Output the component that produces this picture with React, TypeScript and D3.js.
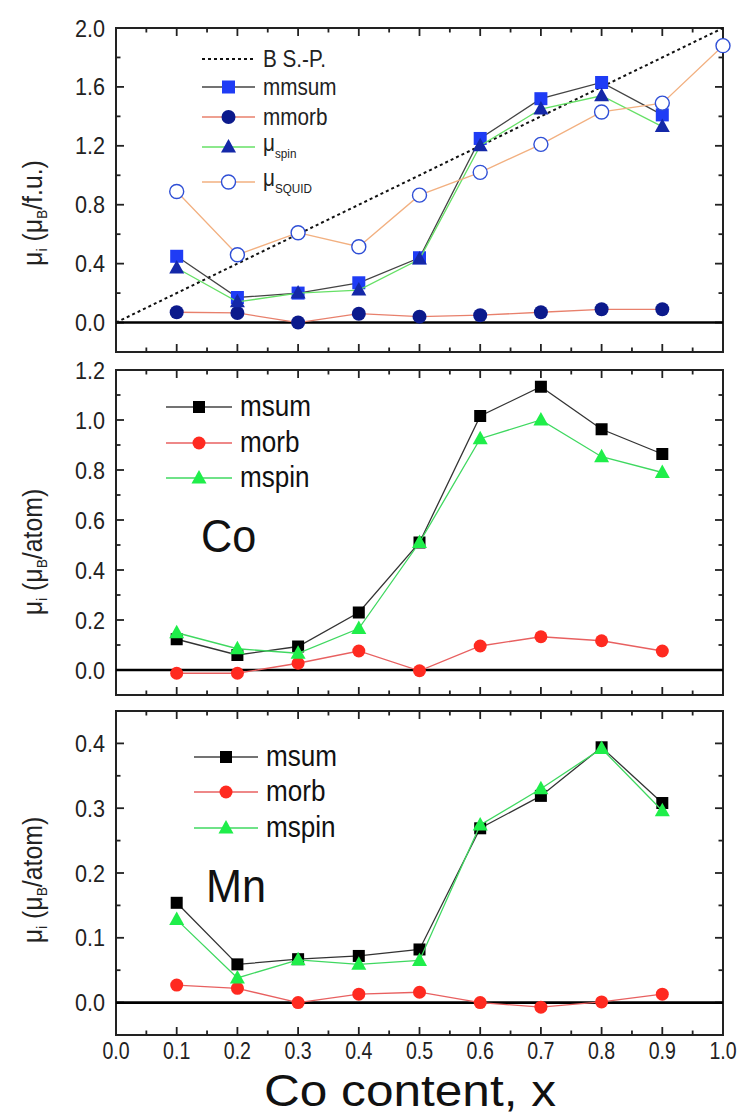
import React from "react";
import * as d3 from "d3";

// ---------- data ----------
const xValues = [0.1, 0.2, 0.3, 0.4, 0.5, 0.6, 0.7, 0.8, 0.9];
const xSquid = [0.1, 0.2, 0.3, 0.4, 0.5, 0.6, 0.7, 0.8, 0.9, 1.0];

// top panel (per formula unit)
const fuSum = [0.45, 0.17, 0.2, 0.27, 0.44, 1.25, 1.52, 1.63, 1.41];
const fuOrb = [0.07, 0.065, 0.0, 0.06, 0.04, 0.05, 0.07, 0.09, 0.09];
const fuSpin = [0.37, 0.14, 0.2, 0.22, 0.43, 1.2, 1.45, 1.54, 1.33];
const fuSquid = [0.89, 0.46, 0.61, 0.515, 0.865, 1.02, 1.21, 1.43, 1.49, 1.88];
const bspX = [0.0, 1.0];
const bspY = [0.0, 2.0];

// Co panel
const coSum = [0.123, 0.06, 0.094, 0.23, 0.51, 1.016, 1.133, 0.963, 0.864];
const coOrb = [-0.013, -0.013, 0.027, 0.076, -0.003, 0.096, 0.133, 0.117, 0.076];
const coSpin = [0.149, 0.085, 0.067, 0.166, 0.51, 0.925, 1.0, 0.853, 0.79];

// Mn panel
const mnSum = [0.154, 0.059, 0.067, 0.072, 0.082, 0.269, 0.319, 0.394, 0.308];
const mnOrb = [0.027, 0.022, 0.0, 0.013, 0.016, 0.0, -0.007, 0.001, 0.013];
const mnSpin = [0.128, 0.038, 0.066, 0.059, 0.065, 0.274, 0.33, 0.392, 0.296];

const xTickLabels = ["0.0", "0.1", "0.2", "0.3", "0.4", "0.5", "0.6", "0.7", "0.8", "0.9", "1.0"];
const yTicksTop = [0.0, 0.4, 0.8, 1.2, 1.6, 2.0];
const yTicksCo = [0.0, 0.2, 0.4, 0.6, 0.8, 1.0, 1.2];
const yTicksMn = [0.0, 0.1, 0.2, 0.3, 0.4];

// ---------- layout ----------
const W = 746;
const H = 1115;
const LEFT = 116;
const RIGHT = 723;
const FONT = "'Liberation Sans', Arial, Helvetica, sans-serif";

const x = d3.scaleLinear().domain([0, 1]).range([LEFT, RIGHT]);

type Panel = {
  top: number;
  bottom: number;
  domain: [number, number];
  major: number;
  ticks: number[];
};

const panels: Panel[] = [
  { top: 28, bottom: 352, domain: [-0.2, 2.0], major: 0.4, ticks: yTicksTop },
  { top: 370, bottom: 695, domain: [-0.1, 1.2], major: 0.2, ticks: yTicksCo },
  { top: 711, bottom: 1035, domain: [-0.05, 0.45], major: 0.1, ticks: yTicksMn },
];

function yScale(p: Panel) {
  return d3.scaleLinear().domain(p.domain).range([p.bottom, p.top]);
}

function tri(cx: number, cy: number, s: number) {
  const h = s * 0.9;
  return `M${cx},${cy - h * 0.6}L${cx + s / 2},${cy + h * 0.4}L${cx - s / 2},${cy + h * 0.4}Z`;
}

// condensed text helper (reference uses a narrow sans face)
function NText({ x: tx, y: ty, anchor = "start", size, sx = 0.86, children, fill = "#222" }:
  { x: number; y: number; anchor?: string; size: number; sx?: number; children: React.ReactNode; fill?: string }) {
  return (
    <text transform={`translate(${tx},${ty}) scale(${sx},1)`} textAnchor={anchor as any} fontSize={size} fontFamily={FONT} fill={fill}>
      {children}
    </text>
  );
}

function Frame({ p, showXLabels }: { p: Panel; showXLabels: boolean }) {
  const y = yScale(p);
  const els: React.ReactNode[] = [];
  for (let i = 1; i < 20; i++) {
    const v = i * 0.05;
    const len = i % 2 === 0 ? 8 : 4.5;
    const xx = x(v);
    els.push(<line key={`xb${i}`} x1={xx} x2={xx} y1={p.bottom} y2={p.bottom - len} stroke="#222" strokeWidth={1.8} />);
    els.push(<line key={`xt${i}`} x1={xx} x2={xx} y1={p.top} y2={p.top + len} stroke="#222" strokeWidth={1.8} />);
  }
  const minor = p.major / 2;
  const n0 = Math.ceil(p.domain[0] / minor - 1e-6);
  const n1 = Math.floor(p.domain[1] / minor + 1e-6);
  for (let k = n0; k <= n1; k++) {
    const v = k * minor;
    const yy = y(v);
    if (Math.abs(yy - p.top) < 1 || Math.abs(yy - p.bottom) < 1) continue;
    const len = k % 2 === 0 ? 8 : 4.5;
    els.push(<line key={`yl${k}`} x1={LEFT} x2={LEFT + len} y1={yy} y2={yy} stroke="#222" strokeWidth={1.8} />);
    els.push(<line key={`yr${k}`} x1={RIGHT} x2={RIGHT - len} y1={yy} y2={yy} stroke="#222" strokeWidth={1.8} />);
  }
  return (
    <g>
      <rect x={LEFT} y={p.top} width={RIGHT - LEFT} height={p.bottom - p.top} fill="none" stroke="#222" strokeWidth={2} />
      {els}
      <line x1={LEFT} x2={RIGHT} y1={y(0)} y2={y(0)} stroke="#000" strokeWidth={2.6} />
      {p.ticks.map((t) => (
        <NText key={`yt${t}`} x={105} y={y(t) + 8.5} anchor="end" size={24} sx={0.9}>
          {t.toFixed(1)}
        </NText>
      ))}
      {showXLabels &&
        xTickLabels.map((lab) => (
          <NText key={`xl${lab}`} x={x(+lab)} y={1059} anchor="middle" size={23} sx={0.85}>
            {lab}
          </NText>
        ))}
    </g>
  );
}

function Series({
  xs, ys, y, lineColor, marker, fill, size, lineWidth = 1.3,
}: {
  xs: number[]; ys: number[]; y: d3.ScaleLinear<number, number>; lineColor: string;
  marker: "square" | "circle" | "triangle" | "open"; fill: string; size: number; lineWidth?: number;
}) {
  const pts: [number, number][] = xs.map((v, i) => [x(v), y(ys[i])]);
  const line = d3.line()(pts) || "";
  return (
    <g>
      <path d={line} fill="none" stroke={lineColor} strokeWidth={lineWidth} />
      {pts.map(([px, py], i) => {
        if (marker === "square")
          return <rect key={i} x={px - size / 2} y={py - size / 2} width={size} height={size} fill={fill} />;
        if (marker === "circle")
          return <circle key={i} cx={px} cy={py} r={size / 2} fill={fill} />;
        if (marker === "open")
          return <circle key={i} cx={px} cy={py} r={size / 2} fill="#fff" stroke={fill} strokeWidth={1.4} />;
        return <path key={i} d={tri(px, py, size)} fill={fill} />;
      })}
    </g>
  );
}

function LegendRow({
  x1, x2, y, color, marker, fill, size, dashed,
}: { x1: number; x2: number; y: number; color: string; marker?: "square" | "circle" | "triangle" | "open"; fill?: string; size: number; dashed?: boolean }) {
  const cx = (x1 + x2) / 2;
  return (
    <g>
      <line x1={x1} x2={x2} y1={y} y2={y} stroke={color} strokeWidth={dashed ? 2 : 1.3} strokeDasharray={dashed ? "3,3" : undefined} />
      {marker === "square" && <rect x={cx - size / 2} y={y - size / 2} width={size} height={size} fill={fill} />}
      {marker === "circle" && <circle cx={cx} cy={y} r={size / 2} fill={fill} />}
      {marker === "open" && <circle cx={cx} cy={y} r={size / 2} fill="#fff" stroke={fill} strokeWidth={1.4} />}
      {marker === "triangle" && <path d={tri(cx, y, size)} fill={fill} />}
    </g>
  );
}

function YTitle({ cy, unit }: { cy: number; unit: string }) {
  return (
    <text transform={`translate(42,${cy}) rotate(-90) scale(0.92,1)`} textAnchor="middle" fontSize={27} fontFamily={FONT} fill="#222">
      <tspan>μ</tspan>
      <tspan fontSize={15} dy={5}>i</tspan>
      <tspan dy={-5}> (μ</tspan>
      <tspan fontSize={15} dy={5}>B</tspan>
      <tspan dy={-5}>{unit})</tspan>
    </text>
  );
}

export default function App() {
  const [p1, p2, p3] = panels;
  const y1 = yScale(p1);
  const y2 = yScale(p2);
  const y3 = yScale(p3);
  const bspLine = d3.line()(bspX.map((v, i) => [x(v), y1(bspY[i])] as [number, number])) || "";

  const BLUE = "#1f3cf5";
  const NAVY = "#0c1a8c";
  const TRI = "#1428a8";
  const SQ = "#2f4fd6";
  const RED = "#ff2a20";
  const GREEN = "#1fee4a";

  return (
    <svg width={W} height={H} style={{ position: "absolute", left: 0, top: 0, background: "#fff" }} xmlns="http://www.w3.org/2000/svg">
      <rect x={0} y={0} width={W} height={H} fill="#fff" />

      {/* ---------- panel 1 ---------- */}
      <Frame p={p1} showXLabels={false} />
      <path d={bspLine} fill="none" stroke="#111" strokeWidth={2} strokeDasharray="3,3" />
      <Series xs={xValues} ys={fuSum} y={y1} lineColor="#444" marker="square" fill={BLUE} size={13} />
      <Series xs={xValues} ys={fuOrb} y={y1} lineColor="#e8806c" marker="circle" fill={NAVY} size={14} />
      <Series xs={xValues} ys={fuSpin} y={y1} lineColor="#66e066" marker="triangle" fill={TRI} size={15} />
      <Series xs={xSquid} ys={fuSquid} y={y1} lineColor="#f2b080" marker="open" fill={SQ} size={14} />

      <LegendRow x1={202} x2={255} y={59} color="#111" size={0} dashed />
      <LegendRow x1={202} x2={255} y={87} color="#444" marker="square" fill={BLUE} size={13} />
      <LegendRow x1={202} x2={255} y={117} color="#e8806c" marker="circle" fill={NAVY} size={14} />
      <LegendRow x1={202} x2={255} y={147} color="#66e066" marker="triangle" fill={TRI} size={15} />
      <LegendRow x1={202} x2={255} y={182} color="#f2b080" marker="open" fill={SQ} size={14} />
      <NText x={263} y={67} size={23} sx={0.9}>B S.-P.</NText>
      <NText x={263} y={95} size={23} sx={0.9}>mmsum</NText>
      <NText x={263} y={125} size={23} sx={0.9}>mmorb</NText>
      <NText x={263} y={151} size={23} sx={0.9}>μ<tspan fontSize={13} dy={7}>spin</tspan></NText>
      <NText x={263} y={186} size={23} sx={0.9}>μ<tspan fontSize={13} dy={7}>SQUID</tspan></NText>
      <YTitle cy={213} unit="/f.u." />

      {/* ---------- panel 2 (Co) ---------- */}
      <Frame p={p2} showXLabels={false} />
      <Series xs={xValues} ys={coSum} y={y2} lineColor="#333" marker="square" fill="#000" size={12} />
      <Series xs={xValues} ys={coOrb} y={y2} lineColor="#e86060" marker="circle" fill={RED} size={13} />
      <Series xs={xValues} ys={coSpin} y={y2} lineColor="#3fd860" marker="triangle" fill={GREEN} size={15} />
      <LegendRow x1={166} x2={232} y={407} color="#444" marker="square" fill="#000" size={12} />
      <LegendRow x1={166} x2={232} y={443} color="#e86060" marker="circle" fill={RED} size={13} />
      <LegendRow x1={166} x2={232} y={478} color="#3fd860" marker="triangle" fill={GREEN} size={15} />
      <NText x={240} y={416} size={29} sx={0.9} fill="#111">msum</NText>
      <NText x={240} y={452} size={29} sx={0.9} fill="#111">morb</NText>
      <NText x={240} y={487} size={29} sx={0.9} fill="#111">mspin</NText>
      <NText x={201} y={552} size={47} sx={0.92} fill="#111">Co</NText>
      <YTitle cy={552} unit="/atom" />

      {/* ---------- panel 3 (Mn) ---------- */}
      <Frame p={p3} showXLabels={true} />
      <Series xs={xValues} ys={mnSum} y={y3} lineColor="#333" marker="square" fill="#000" size={12} />
      <Series xs={xValues} ys={mnOrb} y={y3} lineColor="#e86060" marker="circle" fill={RED} size={13} />
      <Series xs={xValues} ys={mnSpin} y={y3} lineColor="#3fd860" marker="triangle" fill={GREEN} size={15} />
      <LegendRow x1={194} x2={258} y={757} color="#444" marker="square" fill="#000" size={12} />
      <LegendRow x1={194} x2={258} y={792} color="#e86060" marker="circle" fill={RED} size={13} />
      <LegendRow x1={194} x2={258} y={828} color="#3fd860" marker="triangle" fill={GREEN} size={15} />
      <NText x={266} y={766} size={29} sx={0.9} fill="#111">msum</NText>
      <NText x={266} y={801} size={29} sx={0.9} fill="#111">morb</NText>
      <NText x={266} y={837} size={29} sx={0.9} fill="#111">mspin</NText>
      <NText x={206} y={902} size={47} sx={0.92} fill="#111">Mn</NText>
      <YTitle cy={880} unit="/atom" />

      <text x={410} y={1106} textAnchor="middle" fontSize={44} fontFamily={FONT} fill="#111" textLength={292} lengthAdjust="spacingAndGlyphs">
        Co content, x
      </text>
    </svg>
  );
}
